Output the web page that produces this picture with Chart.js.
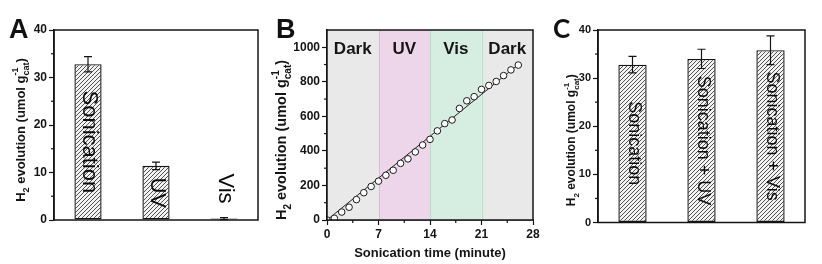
<!DOCTYPE html>
<html><head><meta charset="utf-8">
<script src="https://cdn.jsdelivr.net/npm/chart.js@4.4.1/dist/chart.umd.min.js"></script>
<style>
html,body{margin:0;padding:0;background:#fff;}
body{width:822px;height:264px;position:relative;overflow:hidden;}
canvas{position:absolute;top:0;}
</style></head><body>
<canvas id="cA" width="270" height="264" style="left:0px"></canvas>
<canvas id="cB" width="275" height="264" style="left:270px"></canvas>
<canvas id="cC" width="277" height="264" style="left:545px"></canvas>
<script>
// ---------- Panel A data ----------
const catsA = ['Sonication', 'UV', 'Vis'];
const valsA = [32.8, 11.4, 0.3];
const errA = [1.6, 0.8, 0.2];
const yTicksA = [0, 10, 20, 30, 40];

// ---------- Panel B data ----------
const timeB = [0,1,2,3,4,5,6,7,8,9,10,11,12,13,14,15,16,17,18,19,20,21,22,23,24,25,26];
const h2B = [0,10,46,74,118,158,194,225,259,288,328,354,394,434,467,516,558,579,646,690,714,756,779,802,836,869,897];
const fitTime = [0, 26];
const fitH2 = [0, 900];
const bandEdges = [0, 7, 14, 21, 28];
const bandLabels = ['Dark', 'UV', 'Vis', 'Dark'];
const xTicksB = [0, 7, 14, 21, 28];
const yTicksB = [0, 200, 400, 600, 800, 1000];

// ---------- Panel C data ----------
const catsC = ['Sonication', 'Sonication + UV', 'Sonication + Vis'];
const valsC = [32.8, 34.0, 35.8];
const errC = [1.7, 2.0, 3.0];
const yTicksC = [0, 10, 20, 30, 40];

const FAM = '"Liberation Sans", Arial, sans-serif';
const INK = '#151515';
Chart.defaults.font.family = FAM;
Chart.defaults.color = INK;

function hatch() {
  const s = 4;
  const c = document.createElement('canvas');
  c.width = c.height = s;
  const g = c.getContext('2d');
  g.fillStyle = '#f2f2f2'; g.fillRect(0, 0, s, s);
  g.strokeStyle = '#555555'; g.lineWidth = 1;
  g.beginPath();
  g.moveTo(0, s); g.lineTo(s, 0);
  g.moveTo(-1, 1); g.lineTo(1, -1);
  g.moveTo(s - 1, s + 1); g.lineTo(s + 1, s - 1);
  g.stroke();
  return g.createPattern(c, 'repeat');
}

function drawRich(ctx, segs, cx, cy, size, rot) {
  ctx.save();
  ctx.translate(cx, cy); ctx.rotate(rot);
  const main = `bold ${size}px ${FAM}`;
  const small = `bold ${Math.round(size * 0.68)}px ${FAM}`;
  let total = 0; const parts = [];
  segs.forEach(s => {
    ctx.font = main; const w = s.t ? ctx.measureText(s.t).width : 0;
    ctx.font = small;
    const ws = s.sub ? ctx.measureText(s.sub).width : 0;
    const wp = s.sup ? ctx.measureText(s.sup).width : 0;
    parts.push({ s, w, ws, wp }); total += w + Math.max(ws, wp);
  });
  let x = -total / 2;
  const base = size * 0.36;
  ctx.fillStyle = INK; ctx.textBaseline = 'alphabetic'; ctx.textAlign = 'left';
  parts.forEach(p => {
    if (p.s.t) { ctx.font = main; ctx.fillText(p.s.t, x, base); x += p.w; }
    ctx.font = small;
    if (p.s.sub) ctx.fillText(p.s.sub, x, base + size * 0.3);
    if (p.s.sup) ctx.fillText(p.s.sup, x, base - size * 0.5);
    x += Math.max(p.ws, p.wp);
  });
  ctx.restore();
}
const yTitleSegs = [{ t: 'H', sub: '2' }, { t: ' evolution (umol g', sub: 'cat', sup: '-1' }, { t: ')' }];

const panelPlugin = {
  id: 'panel',
  afterDraw(chart, args, o) {
    const ctx = chart.ctx, ca = chart.chartArea;
    ctx.save(); ctx.strokeStyle = INK; ctx.lineWidth = 1.2;
    (o.minor || []).forEach(id => {
      const s = chart.scales[id]; const t = s.ticks.map(k => k.value);
      for (let i = 0; i < t.length - 1; i++) {
        const p = s.getPixelForValue((t[i] + t[i + 1]) / 2);
        ctx.beginPath();
        if (s.isHorizontal()) { ctx.moveTo(p, ca.bottom); ctx.lineTo(p, ca.bottom + 3); }
        else { ctx.moveTo(ca.left, p); ctx.lineTo(ca.left - 3, p); }
        ctx.stroke();
      }
    });
    ctx.lineWidth = 1.5; ctx.strokeStyle = INK;
    ctx.strokeRect(ca.left, ca.top, ca.right - ca.left, ca.bottom - ca.top);
    ctx.restore();
    ctx.save();
    ctx.font = o.letterFont; ctx.fillStyle = '#111'; ctx.textBaseline = 'alphabetic';
    ctx.fillText(o.letter, o.letterX, o.letterY);
    ctx.restore();
    drawRich(ctx, yTitleSegs, o.titleX, (ca.top + ca.bottom) / 2 + (o.titleDy || 0), o.titleSize, -Math.PI / 2);
  }
};

const barPlugin = {
  id: 'barDeco',
  afterDatasetsDraw(chart, args, o) {
    const ctx = chart.ctx, ys = chart.scales.y;
    const meta = chart.getDatasetMeta(0);
    const vals = chart.data.datasets[0].data;
    ctx.save();
    ctx.strokeStyle = INK; ctx.lineWidth = 1.2;
    meta.data.forEach((bar, i) => {
      const e = o.err[i];
      const yt = ys.getPixelForValue(vals[i] + e), yb = ys.getPixelForValue(vals[i] - e);
      ctx.beginPath();
      ctx.moveTo(bar.x, yt); ctx.lineTo(bar.x, yb);
      ctx.moveTo(bar.x - 4, yt); ctx.lineTo(bar.x + 4, yt);
      ctx.moveTo(bar.x - 4, yb); ctx.lineTo(bar.x + 4, yb);
      ctx.stroke();
    });
    ctx.font = o.labelFont; ctx.fillStyle = '#0a0a0a';
    ctx.textAlign = 'center'; ctx.textBaseline = 'middle';
    meta.data.forEach((bar, i) => {
      const txt = chart.data.labels[i];
      const w = ctx.measureText(txt).width;
      const h = bar.base - bar.y;
      let cy = (bar.y + bar.base) / 2;
      if (w + 8 > h) cy = bar.y - 15 - w / 2;
      ctx.save(); ctx.translate(bar.x + 1, cy); ctx.rotate(Math.PI / 2);
      ctx.fillText(txt, 0, 0); ctx.restore();
    });
    ctx.restore();
  }
};

const bandPlugin = {
  id: 'bands',
  beforeDatasetsDraw(chart, args, o) {
    const ctx = chart.ctx, ca = chart.chartArea, xs = chart.scales.x;
    ctx.save();
    for (let i = 0; i < bandEdges.length - 1; i++) {
      const x0 = xs.getPixelForValue(bandEdges[i]), x1 = xs.getPixelForValue(bandEdges[i + 1]);
      ctx.fillStyle = o.colors[i];
      ctx.fillRect(x0, ca.top, x1 - x0, ca.bottom - ca.top);
    }
    for (let i = 1; i < bandEdges.length - 1; i++) {
      const x = Math.round(xs.getPixelForValue(bandEdges[i])) + 0.5;
      ctx.strokeStyle = o.edges[i - 1]; ctx.lineWidth = 1;
      ctx.beginPath(); ctx.moveTo(x, ca.top); ctx.lineTo(x, ca.bottom); ctx.stroke();
    }
    ctx.font = `bold 17px ${FAM}`; ctx.fillStyle = INK;
    ctx.textAlign = 'center'; ctx.textBaseline = 'middle';
    for (let i = 0; i < bandLabels.length; i++) {
      const xc = (xs.getPixelForValue(bandEdges[i]) + xs.getPixelForValue(bandEdges[i + 1])) / 2;
      ctx.fillText(bandLabels[i], xc, ca.top + 19);
    }
    ctx.restore();
  }
};

function yAxis(ticksArr, width, min, max, fs) {
  return {
    min, max,
    afterBuildTicks: s => { s.ticks = ticksArr.map(v => ({ value: v })); },
    afterFit: s => { s.width = width; },
    ticks: { font: { weight: 'bold', size: fs }, color: INK, padding: 2, callback: v => String(v) },
    grid: { drawOnChartArea: false, tickLength: 5, tickColor: INK, tickWidth: 1.2 },
    border: { color: INK, width: 1.5 }
  };
}

function barChart(id, cats, vals, err, ticksArr, geo, panel, labelFont) {
  return new Chart(document.getElementById(id), {
    type: 'bar',
    data: { labels: cats, datasets: [{ data: vals, backgroundColor: hatch(), borderColor: INK, borderWidth: 1.4, borderSkipped: false, barPercentage: geo.bp, categoryPercentage: 1 }] },
    options: {
      responsive: false, animation: false, events: [],
      layout: { padding: { left: 0, right: geo.right, top: geo.top, bottom: 0 } },
      plugins: { legend: { display: false }, tooltip: { enabled: false }, panel, barDeco: { err, labelFont } },
      scales: {
        x: { ticks: { display: false }, grid: { display: false }, border: { display: false }, afterFit: s => { s.height = geo.xh; } },
        y: yAxis(ticksArr, geo.left, 0, 40, geo.fs)
      }
    },
    plugins: [panelPlugin, barPlugin]
  });
}

barChart('cA', catsA, valsA, errA, yTicksA, { left: 54, right: 12, top: 30, xh: 44, bp: 0.4, fs: 12 },
  { minor: ['y'], letter: 'A', letterFont: `bold 27px ${FAM}`, letterX: 9, letterY: 38, titleX: 20, titleSize: 13, titleDy: 5 },
  `22px ${FAM}`);

new Chart(document.getElementById('cB'), {
  data: {
    datasets: [
      { type: 'scatter', data: timeB.map((t, i) => ({ x: t, y: h2B[i] })), pointRadius: 3.3, pointBorderWidth: 1, pointBorderColor: '#1a1a1a', pointBackgroundColor: '#ffffff', order: 1 },
      { type: 'line', data: fitTime.map((t, i) => ({ x: t, y: fitH2[i] })), borderColor: '#222', borderWidth: 1, pointRadius: 0, order: 2 }
    ]
  },
  options: {
    responsive: false, animation: false, events: [],
    layout: { padding: { left: 0, right: 12, top: 30, bottom: 0 } },
    plugins: {
      legend: { display: false }, tooltip: { enabled: false },
      bands: { colors: ['#e8e9e8', '#eed6ea', '#d6ede2', '#e8e9e8'], edges: ['#dcb9d6', '#b9dbc7', '#b9dbc7'] },
      panel: { minor: ['x', 'y'], letter: 'B', letterFont: `bold 27px ${FAM}`, letterX: 6, letterY: 38, titleX: 11, titleSize: 14.5, titleDy: 15 }
    },
    scales: {
      x: {
        type: 'linear', min: 0, max: 28,
        afterBuildTicks: s => { s.ticks = xTicksB.map(v => ({ value: v })); },
        afterFit: s => { s.height = 44; },
        ticks: { font: { weight: 'bold', size: 12 }, color: INK, padding: 2, maxRotation: 0, callback: v => String(v) },
        grid: { drawOnChartArea: false, tickLength: 5, tickColor: INK, tickWidth: 1.2 },
        border: { color: INK, width: 1.5 },
        title: { display: true, text: 'Sonication time (minute)', font: { weight: 'bold', size: 13 }, color: INK, padding: { top: 0, bottom: 3 } }
      },
      y: yAxis(yTicksB, 57, 0, 1100, 12)
    }
  },
  plugins: [bandPlugin, panelPlugin]
});

barChart('cC', catsC, valsC, errC, yTicksC, { left: 53, right: 17, top: 30, xh: 41.5, bp: 0.41, fs: 11 },
  { minor: ['y'], letter: 'C', letterFont: `bold 26px Lato, "Open Sans", sans-serif`, letterX: 8, letterY: 38, titleX: 26, titleSize: 12, titleDy: 14 },
  `18px ${FAM}`);
</script>
</body></html>
